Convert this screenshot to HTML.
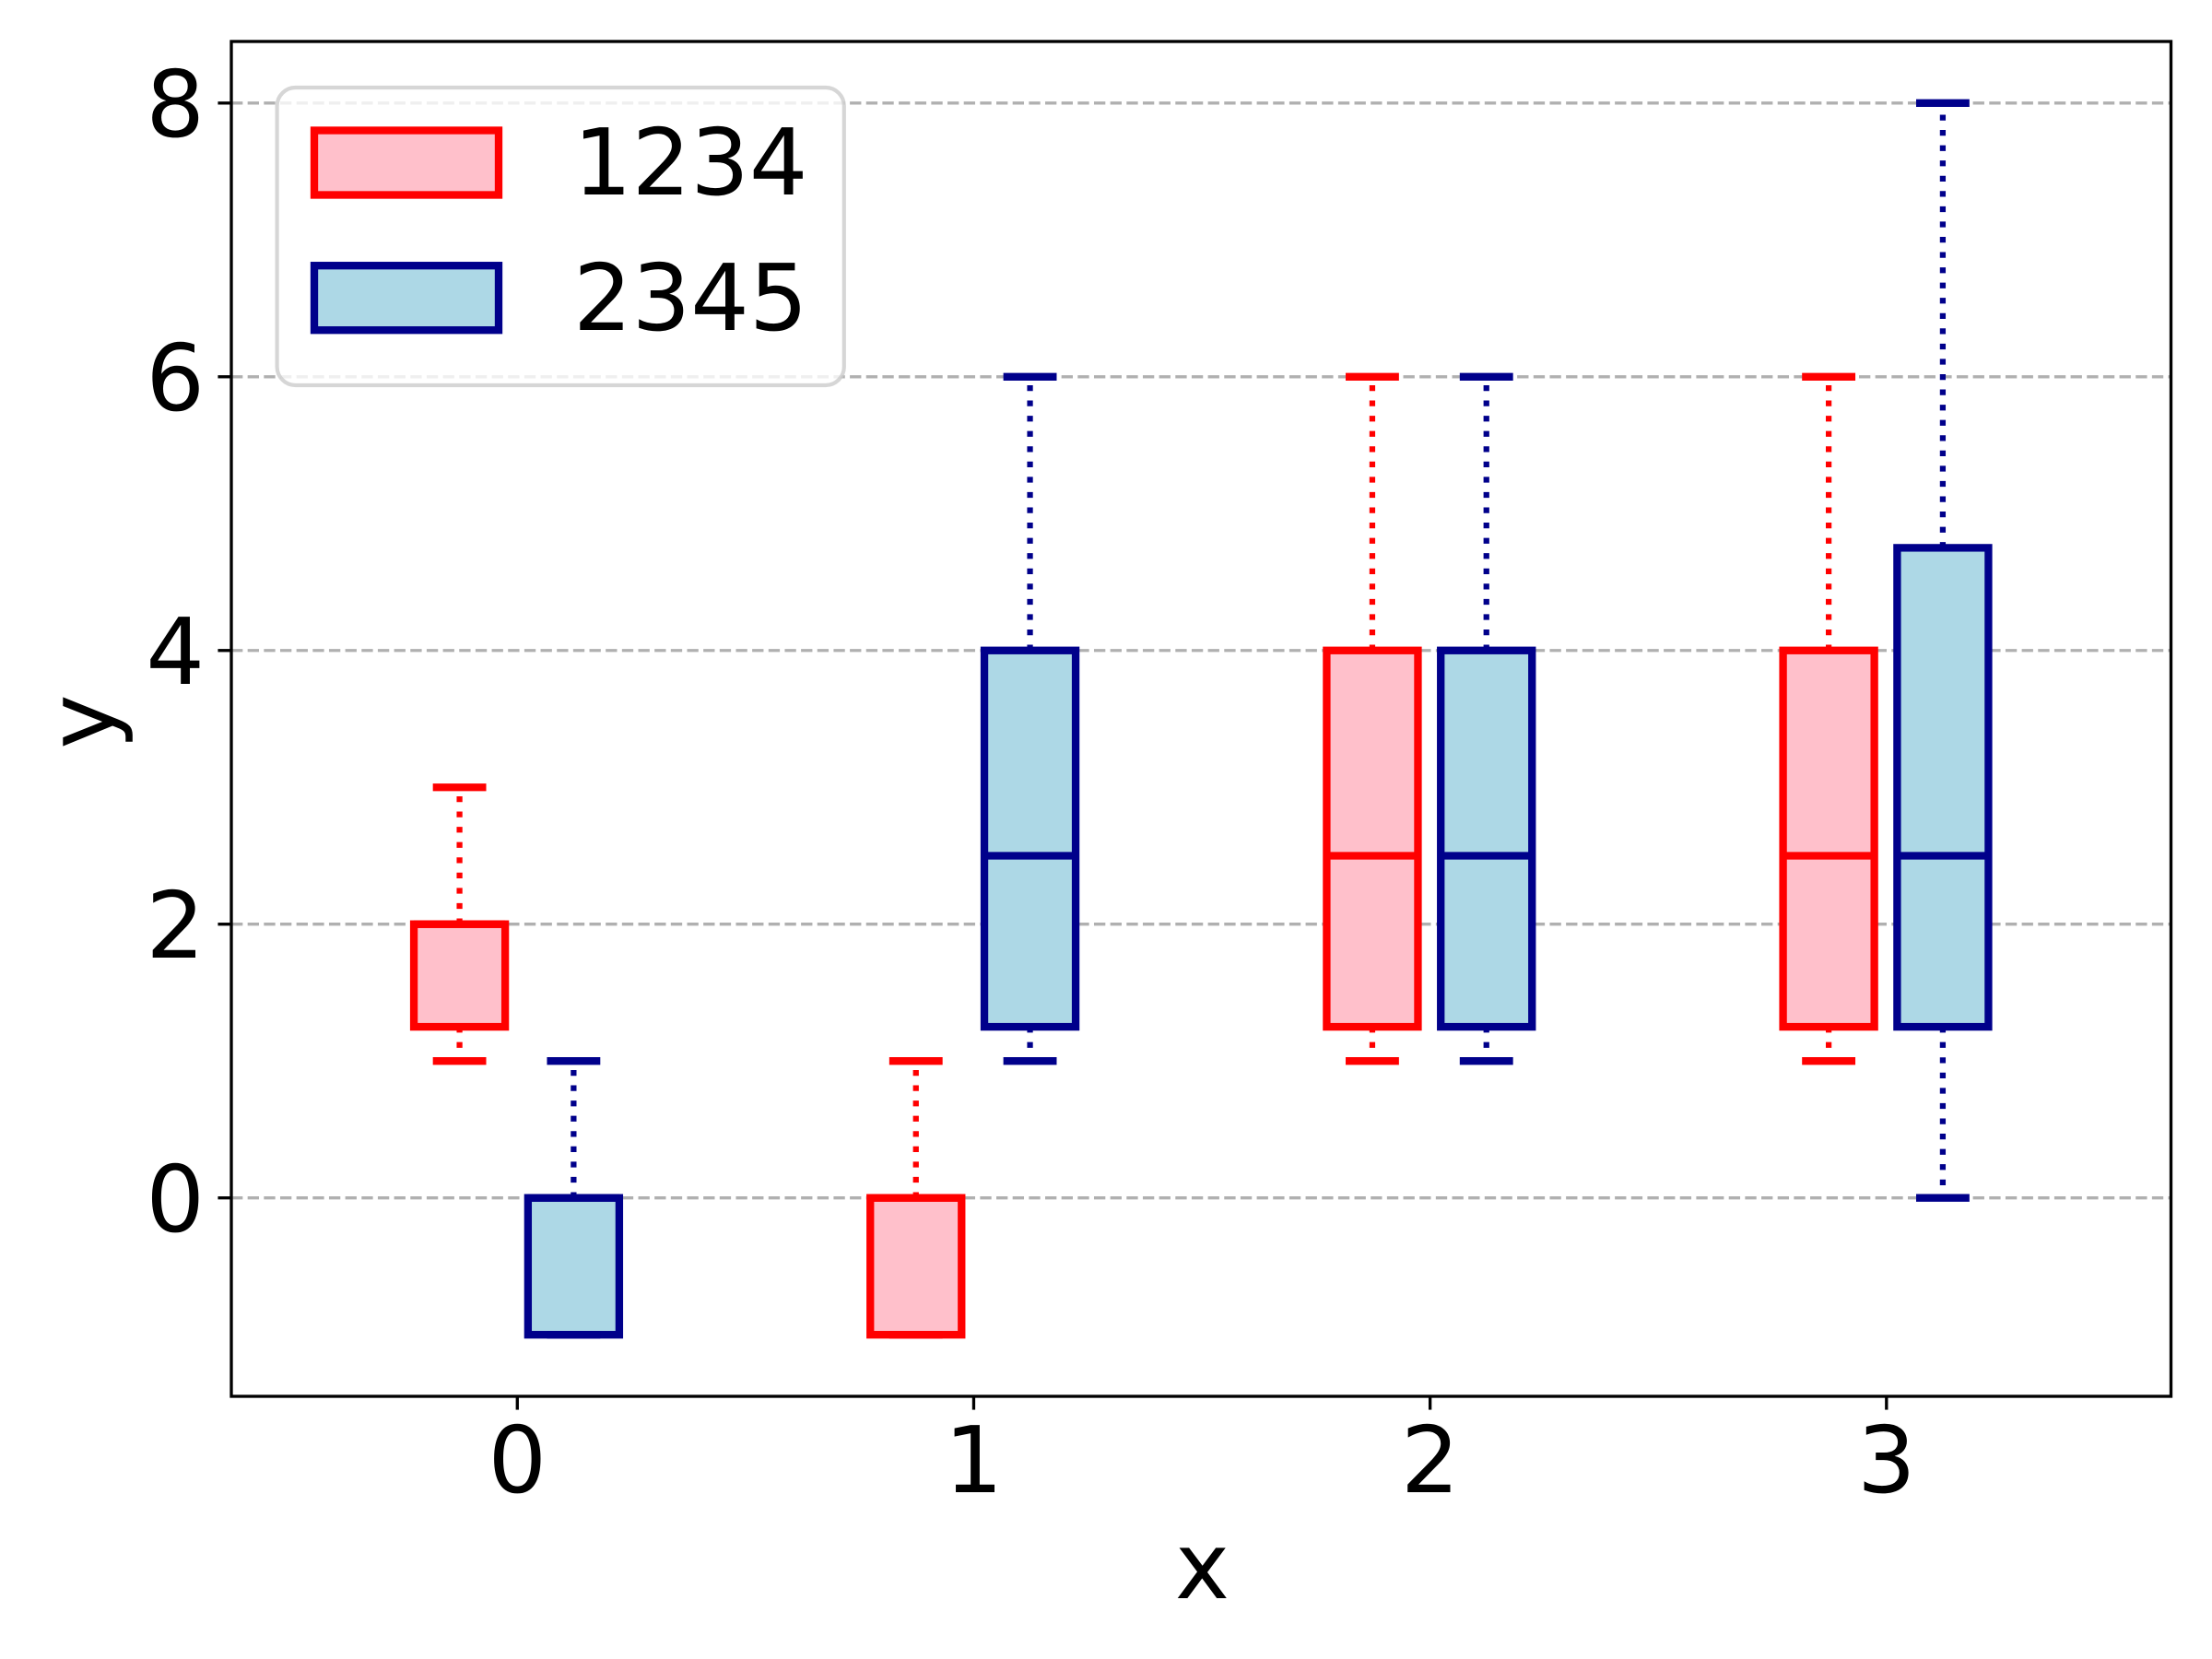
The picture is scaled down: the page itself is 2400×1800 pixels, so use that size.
<!DOCTYPE html>
<html lang="en">
<head>
<meta charset="utf-8">
<title>Grouped box plot</title>
<style>
html,body{margin:0;padding:0;background:#fff;width:2400px;height:1800px;overflow:hidden}
svg{display:block}
text{font-family:"DejaVu Sans","Liberation Sans",sans-serif;font-size:100px;fill:#000;text-rendering:geometricPrecision}
</style>
</head>
<body>
<svg id="chart" xmlns="http://www.w3.org/2000/svg" width="2400" height="1800" viewBox="0 0 2400 1800">
  <rect x="0" y="0" width="2400" height="1800" fill="#fff"></rect>
  <g id="grid"></g>
  <g id="marks"></g>
  <g id="ticks"></g>
  <rect x="251" y="45" width="2104.5" height="1470" fill="none" stroke="#000" stroke-width="3.33" stroke-linejoin="miter"></rect>
  <text x="1304.5" y="1734" text-anchor="middle">x</text>
  <text transform="translate(123,783) rotate(-90)" text-anchor="middle">y</text>
  <g>
    <rect x="300.6" y="95" width="615.2" height="323" rx="20" ry="20" fill="#fff" fill-opacity="0.8" stroke="#ccc" stroke-opacity="0.8" stroke-width="4.17"></rect>
    <g>
      <rect x="341" y="141.5" width="200" height="70" fill="#ffc0cb" stroke="#f00" stroke-width="8.33"></rect>
      <text x="622" y="211">1234</text>
    </g>
    <g>
      <rect x="341" y="288.2" width="200" height="70" fill="#add8e6" stroke="#00008b" stroke-width="8.33"></rect>
      <text x="622" y="358">2345</text>
    </g>
  </g>
</svg>
<script>
const categories = [0, 1, 2, 3];
const xTickLabels = ["0", "1", "2", "3"];
const yTickValues = [0, 2, 4, 6, 8];
const yTickLabels = ["0", "2", "4", "6", "8"];

const whiskerLow1234 = [1, -1, 1, 1];
const quartile1_1234 = [1.25, -1, 1.25, 1.25];
const median1234 = [2, 0, 2.5, 2.5];
const quartile3_1234 = [2, 0, 4, 4];
const whiskerHigh1234 = [3, 1, 6, 6];

const whiskerLow2345 = [-1, 1, 1, 0];
const quartile1_2345 = [-1, 1.25, 1.25, 1.25];
const median2345 = [0, 2.5, 2.5, 2.5];
const quartile3_2345 = [0, 4, 4, 4.75];
const whiskerHigh2345 = [1, 6, 6, 8];

const xDomain = [-0.625, 3.625];
const yDomain = [-1.45, 8.45];

const plotLeft = 251, plotRight = 2355.5, plotTop = 45, plotBottom = 1515;
const NS = 'http://www.w3.org/2000/svg';

function xScale(v) {
  return plotLeft + (v - xDomain[0]) / (xDomain[1] - xDomain[0]) * (plotRight - plotLeft);
}
function yScale(v) {
  return plotBottom - (v - yDomain[0]) / (yDomain[1] - yDomain[0]) * (plotBottom - plotTop);
}
function shape(tag, props, parent) {
  const el = document.createElementNS(NS, tag);
  for (const k in props) el.setAttribute(k, props[k]);
  parent.appendChild(el);
  return el;
}

const gridLayer = document.getElementById('grid');
const tickLayer = document.getElementById('ticks');
const markLayer = document.getElementById('marks');

yTickValues.forEach(function (v, i) {
  const y = yScale(v);
  const g = shape('line', {x1: plotLeft, x2: plotRight, y1: y, y2: y, stroke: '#b0b0b0', 'stroke-width': 3.33, 'stroke-dasharray': '12.33 5.33'}, gridLayer);
  
  
  const t = shape('line', {x1: plotLeft - 14.58, x2: plotLeft, y1: y, y2: y, stroke: '#000', 'stroke-width': 3.33}, tickLayer);
  
  
  const l = shape('text', {x: 222, y: y + 36.4, 'text-anchor': 'end'}, tickLayer);
  l.textContent = yTickLabels[i];
  
  
});

categories.forEach(function (c, i) {
  const x = xScale(c) + 0.8;
  const t = shape('line', {x1: x, x2: x, y1: plotBottom, y2: plotBottom + 14.58, stroke: '#000', 'stroke-width': 3.33}, tickLayer);
  
  
  const l = shape('text', {x: x, y: 1619, 'text-anchor': 'middle'}, tickLayer);
  l.textContent = xTickLabels[i];
  
  
});

function drawSeries(name, offset, fill, edge, lows, q1s, meds, q3s, highs) {
  const series = shape('g', {}, markLayer);
  
  
  categories.forEach(function (c, i) {
    const key = name + '-' + c;
    const cx = xScale(c + offset);
    const halfBox = (xScale(0.1) - xScale(0));
    const halfCap = halfBox / 2;
    const group = shape('g', {}, series);
    
    

    const box = shape('rect', {x: cx - halfBox, y: yScale(q3s[i]), width: 2 * halfBox, height: yScale(q1s[i]) - yScale(q3s[i]), fill: fill, stroke: edge, 'stroke-width': 8.33}, group);
    
    

    const whiskerLow = shape('line', {x1: cx, x2: cx, y1: yScale(q1s[i]), y2: yScale(lows[i]), stroke: edge, 'stroke-width': 6.25, 'stroke-dasharray': '6.25 10.31'}, group);
    
    

    const whiskerHigh = shape('line', {x1: cx, x2: cx, y1: yScale(q3s[i]), y2: yScale(highs[i]), stroke: edge, 'stroke-width': 6.25, 'stroke-dasharray': '6.25 10.31'}, group);
    
    

    const capLow = shape('line', {x1: cx - halfCap, x2: cx + halfCap, y1: yScale(lows[i]), y2: yScale(lows[i]), stroke: edge, 'stroke-width': 8.33, 'stroke-linecap': 'square'}, group);
    
    

    const capHigh = shape('line', {x1: cx - halfCap, x2: cx + halfCap, y1: yScale(highs[i]), y2: yScale(highs[i]), stroke: edge, 'stroke-width': 8.33, 'stroke-linecap': 'square'}, group);
    
    

    const median = shape('line', {x1: cx - halfBox, x2: cx + halfBox, y1: yScale(meds[i]), y2: yScale(meds[i]), stroke: edge, 'stroke-width': 8.33}, group);
    
    
  });
}

drawSeries('1234', -0.125, '#ffc0cb', '#ff0000', whiskerLow1234, quartile1_1234, median1234, quartile3_1234, whiskerHigh1234);
drawSeries('2345', 0.125, '#add8e6', '#00008b', whiskerLow2345, quartile1_2345, median2345, quartile3_2345, whiskerHigh2345);
</script>
</body>
</html>
